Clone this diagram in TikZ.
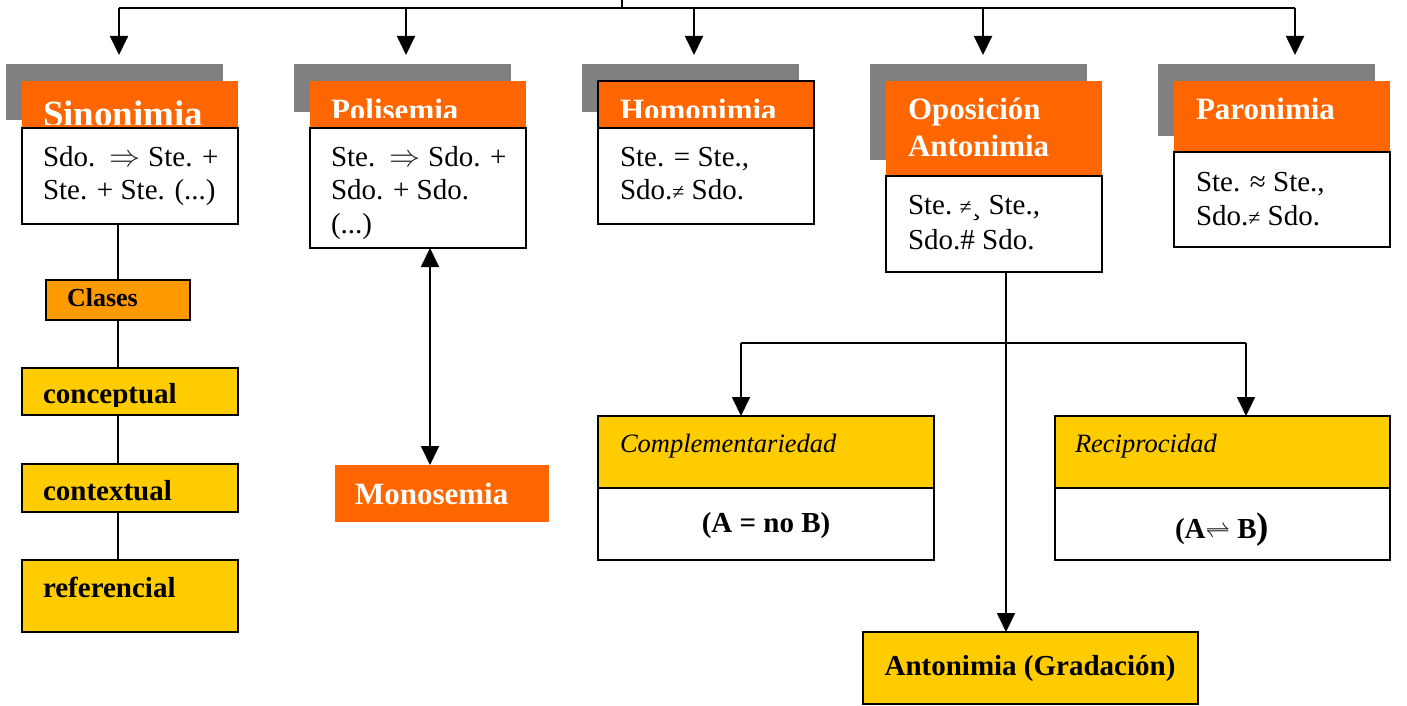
\documentclass[tikz,border=0pt]{standalone}
\usepackage{fontspec}
\setmainfont{Liberation Serif}
\usetikzlibrary{arrows.meta}
\definecolor{orng}{HTML}{FF6600}
\definecolor{shad}{HTML}{808080}
\definecolor{yell}{HTML}{FFCC00}
\definecolor{clso}{HTML}{FF9900}
\tikzset{
  bx/.style={anchor=north west, inner sep=0pt, outer sep=0pt, rectangle},
  shadowbox/.style={bx, fill=shad},
  headbox/.style={bx, fill=orng},
  bodybox/.style={bx, fill=white, draw=black, line width=1.6pt},
  yelbox/.style={bx, fill=yell, draw=black, line width=1.6pt},
  txt/.style={anchor=base west, inner sep=0pt, outer sep=0pt, font=\fontsize{29}{33}\selectfont},
  ctxt/.style={anchor=base, inner sep=0pt, outer sep=0pt, font=\fontsize{29}{33}\selectfont\bfseries},
  headtxt/.style={txt, text=white, font=\fontsize{31}{35}\selectfont\bfseries},
  boldtxt/.style={txt, font=\fontsize{29}{33}\selectfont\bfseries},
  ittxt/.style={txt, font=\fontsize{26.5}{30}\selectfont\itshape},
  conn/.style={line width=1.8pt, draw=black},
  arr/.style={conn, -{Triangle[length=19pt,width=18pt]}},
  darr/.style={conn, {Triangle[length=19pt,width=18pt]}-{Triangle[length=19pt,width=18pt]}}
}
\newcommand{\smne}{{\fontsize{22}{22}\selectfont ≠}}
\newcommand{\thinarrow}{{\color{black!85}\scalebox{1.25}{$\Rightarrow$}}}
\begin{document}
\begin{tikzpicture}[x=1pt,y=-1pt]
\useasboundingbox (0,0) rectangle (1407,706);
% ---------- top branches ----------
\coordinate (stub) at (622,0);
\coordinate (tj) at (622,8);
\coordinate (t1) at (119,8);
\coordinate (t2) at (406,8);
\coordinate (t3) at (694,8);
\coordinate (t4) at (983,8);
\coordinate (t5) at (1295,8);
% ---------- Sinonimia ----------
\node[shadowbox, minimum width=217pt, minimum height=56pt] (sinG) at (6,64) {};
\node[headbox, minimum width=216pt, minimum height=47pt] (sinH) at (22,81) {};
\begin{scope}
\clip (22,81) rectangle (238,125);
\node[headtxt, font=\fontsize{37}{40}\selectfont\bfseries] (sinT) at (43,127) {Sinonimia};
\end{scope}
\node[bodybox, minimum width=216pt, minimum height=96pt] (sinB) at (22,128) {};
\node[txt] (sinL1) at (43,166.5) {Sdo.\ \ \thinarrow\ Ste. +};
\node[txt] (sinL2) at (43,199.5) {Ste. + Ste. (...)};
% ---------- Polisemia ----------
\node[shadowbox, minimum width=217pt, minimum height=48pt] (polG) at (294,64) {};
\node[headbox, minimum width=216pt, minimum height=47pt] (polH) at (310,81) {};
\begin{scope}
\clip (310,81) rectangle (526,118);
\node[headtxt] (polT) at (331,121) {Polisemia};
\end{scope}
\node[bodybox, minimum width=216pt, minimum height=120pt] (polB) at (310,128) {};
\node[txt] (polL1) at (331,166.5) {Ste.\ \ \thinarrow\ Sdo. +};
\node[txt] (polL2) at (331,199.5) {Sdo. + Sdo.};
\node[txt] (polL3) at (331,233) {(...)};
% ---------- Homonimia ----------
\node[shadowbox, minimum width=217pt, minimum height=48pt] (homG) at (582,64) {};
\node[headbox, draw=black, line width=1.6pt, minimum width=216pt, minimum height=47pt] (homH) at (598,81) {};
\begin{scope}
\clip (598,81) rectangle (814,118);
\node[headtxt] (homT) at (620,121) {Homonimia};
\end{scope}
\node[bodybox, minimum width=216pt, minimum height=96pt] (homB) at (598,128) {};
\node[txt] (homL1) at (620,166.5) {Ste. = Ste.,};
\node[txt] (homL2) at (620,199.5) {Sdo.\smne\ Sdo.};
% ---------- Oposicion ----------
\node[shadowbox, minimum width=217pt, minimum height=96pt] (opoG) at (870,64) {};
\node[headbox, minimum width=216pt, minimum height=95pt] (opoH) at (886,81) {};
\node[headtxt] (opoT1) at (908,120) {Oposición};
\node[headtxt] (opoT2) at (908,157) {Antonimia};
\node[bodybox, minimum width=216pt, minimum height=96pt] (opoB) at (886,176) {};
\node[txt] (opoL1) at (908,214.5) {Ste.\ \smne¸ Ste.,};
\node[txt] (opoL2) at (908,249.5) {Sdo.\# Sdo.};
% ---------- Paronimia ----------
\node[shadowbox, minimum width=217pt, minimum height=72pt] (parG) at (1158,64) {};
\node[headbox, minimum width=216pt, minimum height=71pt] (parH) at (1174,81) {};
\node[headtxt] (parT) at (1196,120) {Paronimia};
\node[bodybox, minimum width=216pt, minimum height=95pt] (parB) at (1174,152) {};
\node[txt] (parL1) at (1196,191.5) {Ste. ≈ Ste.,};
\node[txt] (parL2) at (1196,225.5) {Sdo.\smne\ Sdo.};
% ---------- Sinonimia classes ----------
\node[bx, fill=clso, draw=black, line width=1.6pt, minimum width=144pt, minimum height=40pt] (clases) at (46,280) {};
\node[boldtxt, font=\fontsize{26}{30}\selectfont\bfseries] (clasesT) at (67,306.5) {Clases};
\node[yelbox, minimum width=216pt, minimum height=47pt] (conc) at (22,368) {};
\begin{scope}
\clip (22,368) rectangle (238,406);
\node[boldtxt] (concT) at (43,403) {conceptual};
\end{scope}
\node[yelbox, minimum width=216pt, minimum height=48pt] (cont) at (22,464) {};
\node[boldtxt] (contT) at (43,500) {contextual};
\node[yelbox, minimum width=216pt, minimum height=72pt] (refe) at (22,560) {};
\node[boldtxt] (refeT) at (43,597) {referencial};
% ---------- Monosemia ----------
\node[headbox, minimum width=214pt, minimum height=57pt] (mono) at (335,465) {};
\node[headtxt] (monoT) at (355,504) {Monosemia};
% ---------- Oposicion subtypes ----------
\node[yelbox, minimum width=336pt, minimum height=72pt] (compH) at (598,416) {};
\node[bodybox, minimum width=336pt, minimum height=72pt] (compB) at (598,488) {};
\node[ittxt] (compT) at (620,452) {Complementariedad};
\node[ctxt] (compF) at (766,532) {(A = no B)};
\node[yelbox, minimum width=335pt, minimum height=72pt] (recH) at (1055,416) {};
\node[bodybox, minimum width=335pt, minimum height=72pt] (recB) at (1055,488) {};
\node[ittxt] (recT) at (1075,452) {Reciprocidad};
\node[ctxt] (recF) at (1222,538) {(A$\rightleftharpoons$ B{\fontsize{37}{40}\selectfont )}};
\node[yelbox, minimum width=335pt, minimum height=72pt] (grad) at (863,632) {};
\node[ctxt] (gradT) at (1030,675) {Antonimia (Gradación)};
% ---------- connectors ----------
\draw[conn] (stub) -- (tj);
\draw[conn] (t1) -- (t5);
\draw[arr, shorten >=9pt] (t1) -- (t1 |- sinG.north);
\draw[arr, shorten >=9pt] (t2) -- (t2 |- polG.north);
\draw[arr, shorten >=9pt] (t3) -- (t3 |- homG.north);
\draw[arr, shorten >=9pt] (t4) -- (t4 |- opoG.north);
\draw[arr, shorten >=9pt] (t5) -- (t5 |- parG.north);
% Sinonimia chain
\draw[conn] (clases.north |- sinB.south) -- (clases.north);
\draw[conn] (clases.south) -- (clases.south |- conc.north);
\draw[conn] (clases.south |- conc.south) -- (clases.south |- cont.north);
\draw[conn] (clases.south |- cont.south) -- (clases.south |- refe.north);
% Polisemia <-> Monosemia
\coordinate (px) at (430,0);
\draw[darr] (px |- polB.south) -- (px |- mono.north);
% Oposicion tree
\coordinate (ox) at (1006,0);
\coordinate (hl) at (741,343);
\coordinate (hr) at (1246,343);
\draw[arr] (ox |- opoB.south) -- (ox |- grad.north);
\draw[conn] (hl) -- (hr);
\draw[arr] (hl) -- (hl |- compH.north);
\draw[arr] (hr) -- (hr |- recH.north);
\end{tikzpicture}
\end{document}
